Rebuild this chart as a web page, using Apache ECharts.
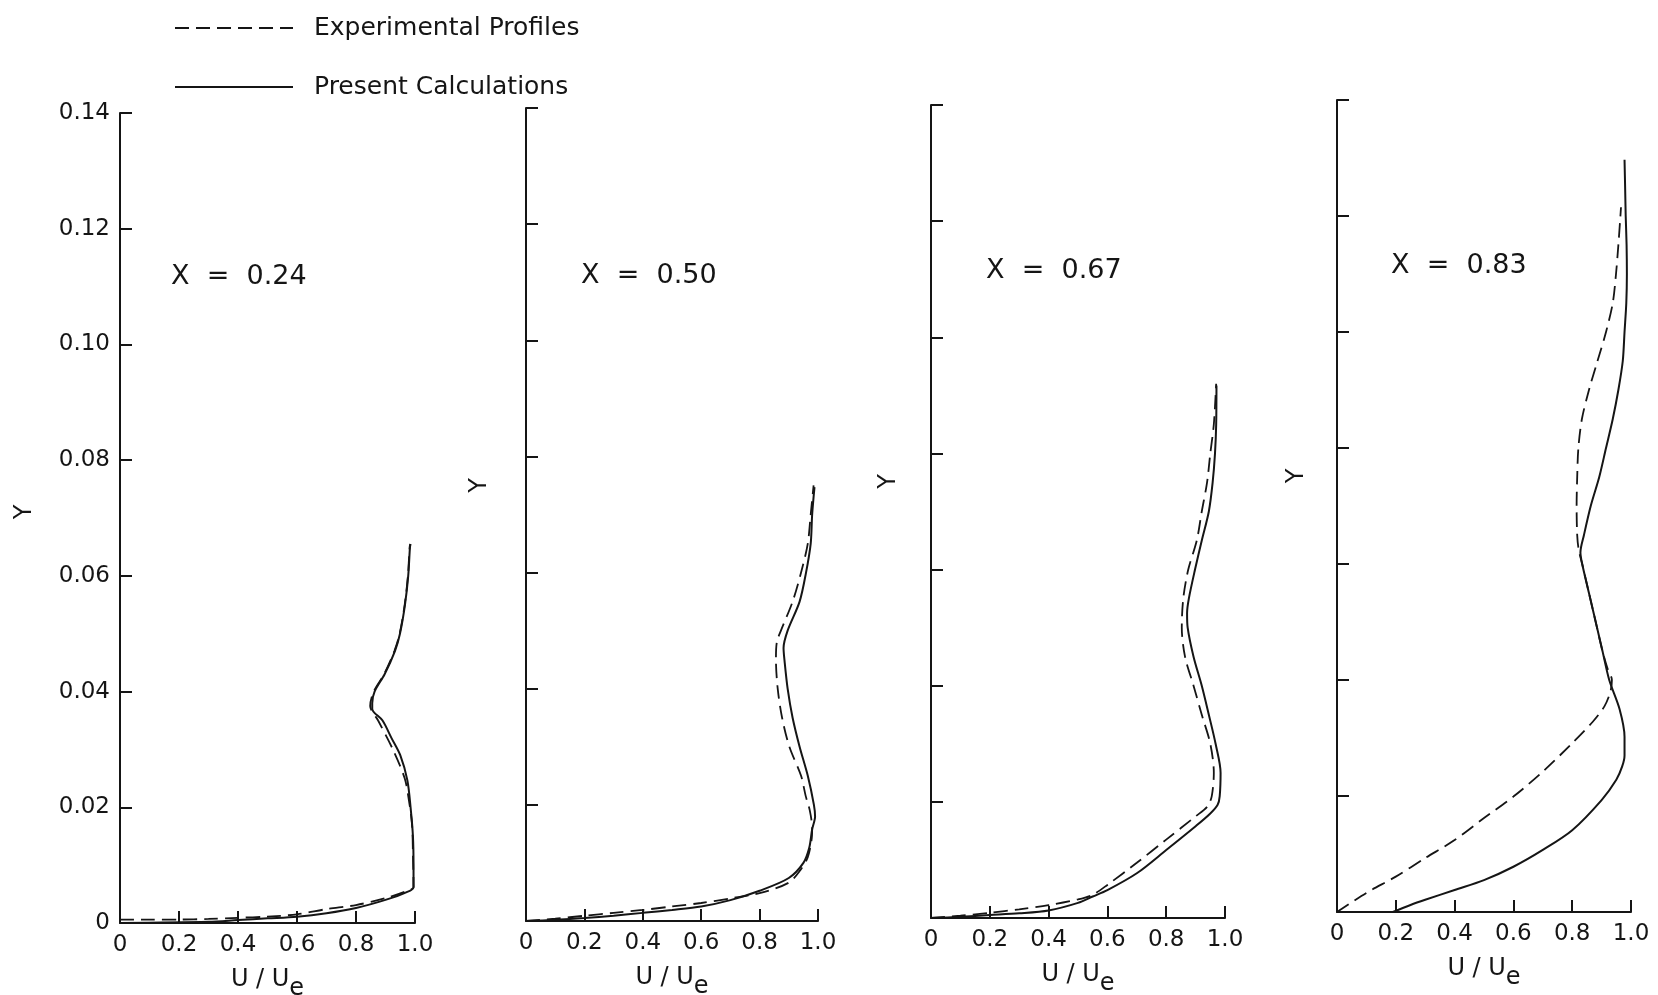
<!DOCTYPE html>
<html><head><meta charset="utf-8">
<script src="https://cdn.jsdelivr.net/npm/echarts@6/dist/echarts.min.js"></script>
<style>html,body{margin:0;padding:0;background:#fff}#c{width:1658px;height:995px}</style>
</head><body><div id="c"></div>
<script>
// ---- data (U/Ue, Y) ----
const panelTitles = ['X  =  0.24', 'X  =  0.50', 'X  =  0.67', 'X  =  0.83'];
const seriesNames = ['Experimental Profiles', 'Present Calculations'];
const xTickLabels = ['0', '0.2', '0.4', '0.6', '0.8', '1.0'];
const yTickLabels = ['0', '0.02', '0.04', '0.06', '0.08', '0.10', '0.12', '0.14'];

const exp1 = [[0,0.0006],[0.1,0.0006],[0.2,0.0006],[0.3,0.0007],[0.4,0.0009],[0.5,0.0011],[0.6,0.0015],[0.7,0.0024],[0.8,0.0031],[0.9,0.0043],[0.97,0.0055],[0.995,0.0062],[0.993,0.012],[0.99,0.017],[0.98,0.021],[0.965,0.025],[0.925,0.030],[0.875,0.035],[0.848,0.0375],[0.86,0.040],[0.895,0.043],[0.93,0.047],[0.948,0.050],[0.965,0.055],[0.976,0.060],[0.982,0.065],[0.984,0.0655]];
const calc1 = [[0,0],[0.3,0.0002],[0.4,0.0005],[0.5,0.0008],[0.6,0.0011],[0.7,0.0017],[0.8,0.0026],[0.9,0.004],[0.97,0.0053],[0.995,0.0062],[0.995,0.010],[0.993,0.015],[0.985,0.020],[0.974,0.0247],[0.95,0.029],[0.92,0.032],[0.89,0.035],[0.855,0.037],[0.855,0.038],[0.863,0.040],[0.897,0.043],[0.932,0.047],[0.949,0.050],[0.966,0.055],[0.977,0.060],[0.983,0.065],[0.985,0.0655]];

const exp2 = [[0,0],[0.1,0.0004],[0.2,0.0009],[0.3,0.0014],[0.4,0.0019],[0.5,0.0025],[0.6,0.0031],[0.7,0.0039],[0.8,0.0048],[0.9,0.0066],[0.94,0.0088],[0.965,0.011],[0.978,0.014],[0.98,0.016],[0.972,0.019],[0.958,0.0215],[0.942,0.025],[0.902,0.030],[0.877,0.035],[0.862,0.040],[0.856,0.045],[0.859,0.048],[0.873,0.050],[0.913,0.055],[0.942,0.060],[0.965,0.065],[0.975,0.070],[0.985,0.075]];
const calc2 = [[0,0],[0.1,0.0002],[0.2,0.0005],[0.3,0.0009],[0.4,0.0014],[0.5,0.0019],[0.6,0.0025],[0.7,0.0036],[0.8,0.0052],[0.9,0.0074],[0.95,0.010],[0.97,0.0126],[0.98,0.0158],[0.99,0.018],[0.986,0.020],[0.965,0.025],[0.937,0.030],[0.913,0.035],[0.896,0.040],[0.885,0.045],[0.882,0.047],[0.896,0.050],[0.937,0.055],[0.959,0.060],[0.975,0.065],[0.98,0.070],[0.988,0.0747]];

const exp3 = [[0,0],[0.1,0.0004],[0.2,0.0009],[0.3,0.0015],[0.4,0.0022],[0.5,0.0032],[0.55,0.0040],[0.6,0.0057],[0.7,0.0095],[0.8,0.0135],[0.9,0.0175],[0.94,0.0192],[0.955,0.021],[0.962,0.025],[0.950,0.030],[0.921,0.035],[0.893,0.040],[0.864,0.045],[0.853,0.050],[0.858,0.055],[0.875,0.060],[0.904,0.065],[0.921,0.070],[0.939,0.075],[0.950,0.080],[0.962,0.085],[0.970,0.092]];
const calc3 = [[0,0],[0.1,0.0002],[0.2,0.0005],[0.3,0.0008],[0.4,0.0013],[0.5,0.0026],[0.55,0.0037],[0.6,0.0048],[0.7,0.0077],[0.8,0.0117],[0.9,0.0158],[0.95,0.018],[0.975,0.0195],[0.982,0.021],[0.985,0.025],[0.968,0.030],[0.945,0.035],[0.921,0.040],[0.893,0.045],[0.873,0.050],[0.871,0.0525],[0.877,0.055],[0.898,0.060],[0.921,0.065],[0.945,0.070],[0.958,0.075],[0.966,0.080],[0.970,0.085],[0.971,0.0917]];

const exp4 = [[0,0],[0.1,0.0033],[0.2,0.0061],[0.3,0.0093],[0.4,0.0124],[0.5,0.0162],[0.6,0.0199],[0.7,0.0242],[0.8,0.0291],[0.87,0.0328],[0.91,0.0355],[0.93,0.038],[0.935,0.040],[0.92,0.042],[0.903,0.045],[0.880,0.050],[0.857,0.055],[0.834,0.060],[0.822,0.0625],[0.817,0.065],[0.815,0.070],[0.817,0.075],[0.821,0.080],[0.833,0.085],[0.857,0.090],[0.886,0.095],[0.915,0.100],[0.938,0.105],[0.949,0.110],[0.957,0.115],[0.964,0.120],[0.966,0.1215]];
const calc4 = [[0.19,0],[0.25,0.0012],[0.3,0.0021],[0.4,0.0038],[0.5,0.0055],[0.6,0.0078],[0.7,0.0107],[0.8,0.0141],[0.9,0.0193],[0.95,0.0228],[0.97,0.0251],[0.978,0.027],[0.978,0.0302],[0.961,0.035],[0.926,0.040],[0.903,0.045],[0.880,0.050],[0.857,0.055],[0.834,0.060],[0.828,0.062],[0.840,0.065],[0.863,0.070],[0.892,0.075],[0.915,0.080],[0.938,0.085],[0.957,0.090],[0.972,0.095],[0.978,0.100],[0.984,0.105],[0.986,0.110],[0.985,0.115],[0.982,0.120],[0.980,0.125],[0.978,0.1297]];

const expData = [exp1, exp2, exp3, exp4];
const calcData = [calc1, calc2, calc3, calc4];

// ---- layout ----
const FONT = 'DejaVu Sans';
const INK = '#151515';
const grids = [
  {left: 120, top: 113, width: 295, height: 810},
  {left: 526, top: 108, width: 292, height: 813},
  {left: 931, top: 105, width: 294, height: 813},
  {left: 1337, top: 100, width: 294, height: 812}
].map(g => Object.assign(g, {containLabel: false, outerBoundsMode: 'none'}));
const titlePos = [[171, 262], [581, 261], [986, 256], [1391, 251]];
const yNameGap = [83, 34, 30, 28];
const yNamePad = [12, 58, 60, 60];

const option = {
  backgroundColor: '#fff',
  animation: false,
  textStyle: {fontFamily: FONT, color: INK},
  title: panelTitles.map((t, i) => ({
    text: t, left: titlePos[i][0], top: titlePos[i][1], padding: 0,
    textStyle: {fontFamily: FONT, fontSize: 27, fontWeight: 'normal', color: INK, lineHeight: 30}
  })),
  legend: {
    orient: 'vertical', left: 169, top: 8,
    itemWidth: 118, itemHeight: 14, itemGap: 29,
    data: seriesNames.map(n => ({name: n, itemStyle: {opacity: 0}})),
    textStyle: {fontFamily: FONT, fontSize: 25, color: INK, lineHeight: 30, padding: [0, 0, 0, 16]}
  },
  grid: grids,
  xAxis: grids.map((g, i) => ({
    type: 'value', gridIndex: i, min: 0, max: 1, interval: 0.2,
    axisLine: {show: true, lineStyle: {color: INK, width: 2}},
    axisTick: {show: true, inside: true, length: 12, lineStyle: {color: INK, width: 2}},
    axisLabel: {
      margin: 11, fontFamily: FONT, fontSize: 23, color: INK,
      formatter: v => xTickLabels[Math.round(v / 0.2)]
    },
    splitLine: {show: false},
    name: '{a|U / U}{b|e}{c| }',
    nameLocation: 'middle', nameGap: 45,
    nameTextStyle: {
      rich: {
        a: {fontFamily: FONT, fontSize: 24, color: INK, lineHeight: 24, verticalAlign: 'top'},
        b: {fontFamily: FONT, fontSize: 24, color: INK, lineHeight: 24, verticalAlign: 'bottom'},
        c: {fontSize: 4, lineHeight: 33, width: 0}
      }
    }
  })),
  yAxis: grids.map((g, i) => ({
    type: 'value', gridIndex: i, min: 0, max: 0.14, interval: 0.02,
    axisLine: {show: true, lineStyle: {color: INK, width: 2}},
    axisTick: {show: true, inside: true, length: 12, lineStyle: {color: INK, width: 2}},
    axisLabel: {
      show: i === 0, margin: 10, fontFamily: FONT, fontSize: 23, color: INK,
      formatter: v => yTickLabels[Math.round(v / 0.02)]
    },
    splitLine: {show: false},
    name: 'Y', nameLocation: 'middle', nameRotate: 90, nameGap: yNameGap[i],
    nameTextStyle: {fontFamily: FONT, fontSize: 24, color: INK, padding: [0, 0, 0, yNamePad[i]]}
  })),
  series: []
};

for (let i = 0; i < 4; i++) {
  option.series.push({
    name: seriesNames[0], type: 'line', xAxisIndex: i, yAxisIndex: i,
    data: expData[i], showSymbol: false, symbol: 'none', smooth: 0.3,
    lineStyle: {color: INK, width: 1.8, type: [14, 7]},
    itemStyle: {color: INK}
  });
  option.series.push({
    name: seriesNames[1], type: 'line', xAxisIndex: i, yAxisIndex: i,
    data: calcData[i], showSymbol: false, symbol: 'none', smooth: 0.3,
    lineStyle: {color: INK, width: 2, type: 'solid'},
    itemStyle: {color: INK}
  });
}

const chart = echarts.init(document.getElementById('c'), null, {renderer: 'canvas'});
chart.setOption(option);
</script>
</body></html>
